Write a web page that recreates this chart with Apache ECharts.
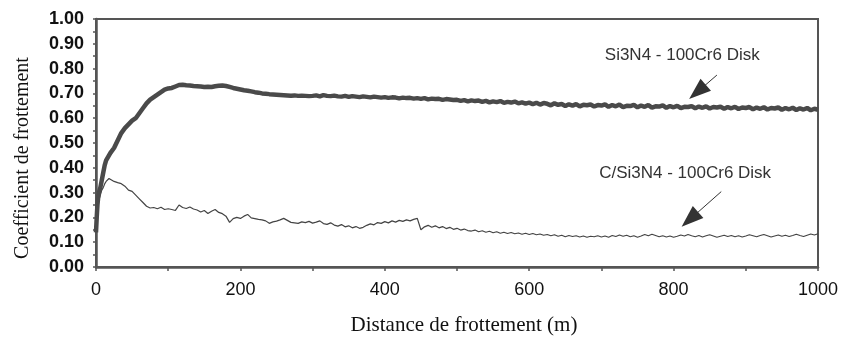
<!DOCTYPE html>
<html>
<head>
<meta charset="utf-8">
<script src="https://cdn.jsdelivr.net/npm/echarts@6/dist/echarts.min.js"></script>
<style>html,body{margin:0;padding:0;background:#fff;}#c{width:844px;height:339px;}</style>
</head>
<body>
<div id="c"></div>
<script>
// Sampling distances (m)
const distance = [0,1,2,3,4,6,8,10,12,14,16,18,20];
for (let d = 25; d <= 1000; d += 5) distance.push(d);

// Si3N4 - 100Cr6 Disk
const si3n4 = [
  0.14,0.20,0.25,0.28,0.30,0.32,0.35,0.38,0.41,0.43,0.44,0.45,0.46,
  0.48,0.51,0.54,0.56,0.575,0.59,0.60,0.62,0.64,0.66,0.675,0.685,0.695,0.705,0.715,
  0.720,0.722,0.728,0.734,0.735,0.733,0.732,0.730,0.729,0.728,0.726,0.727,0.726,0.729,0.731,0.732,0.730,0.726,0.722,0.719,
  0.716,0.713,0.711,0.708,0.705,0.703,0.700,0.699,0.697,0.696,0.695,0.694,0.693,0.692,0.691,0.692,0.690,0.691,0.690,0.689,
  0.690,0.692,0.688,0.693,0.690,0.689,0.691,0.688,0.687,0.690,0.686,0.689,0.687,0.685,0.688,0.686,0.684,0.687,0.685,0.683,
  0.685,0.682,0.684,0.683,0.680,0.683,0.681,0.682,0.679,0.681,0.678,0.681,0.676,0.679,0.677,0.678,0.674,0.677,0.675,0.673,
  0.674,0.670,0.673,0.668,0.672,0.669,0.671,0.666,0.670,0.664,0.668,0.665,0.669,0.662,0.666,0.663,0.667,0.660,0.664,0.659,
  0.663,0.657,0.662,0.655,0.661,0.658,0.652,0.660,0.654,0.657,0.649,0.656,0.651,0.657,0.648,0.654,0.652,0.655,0.647,0.653,
  0.651,0.656,0.646,0.653,0.648,0.655,0.645,0.650,0.649,0.654,0.644,0.651,0.646,0.653,0.643,0.648,0.647,0.652,0.642,0.649,
  0.644,0.650,0.641,0.646,0.645,0.649,0.640,0.647,0.642,0.648,0.639,0.645,0.643,0.646,0.638,0.645,0.640,0.646,0.637,0.643,
  0.641,0.645,0.636,0.643,0.638,0.644,0.635,0.641,0.639,0.643,0.634,0.641,0.636,0.642,0.633,0.640,0.635,0.641,0.632,0.638,
  0.634
];

// C/Si3N4 - 100Cr6 Disk
const cSi3n4 = [
  0.14,0.18,0.22,0.25,0.27,0.29,0.31,0.32,0.335,0.345,0.352,0.357,0.350,
  0.345,0.340,0.336,0.326,0.310,0.305,0.290,0.275,0.260,0.245,0.238,0.240,0.235,0.241,0.232,
  0.235,0.232,0.228,0.250,0.240,0.236,0.242,0.234,0.230,0.222,0.228,0.216,0.225,0.232,0.220,0.215,0.205,0.180,0.195,0.200,
  0.196,0.205,0.212,0.198,0.195,0.192,0.190,0.186,0.176,0.182,0.185,0.190,0.196,0.188,0.180,0.178,0.176,0.182,0.179,0.184,
  0.177,0.181,0.186,0.175,0.172,0.178,0.169,0.165,0.171,0.162,0.166,0.158,0.163,0.156,0.160,0.168,0.174,0.170,0.179,0.176,
  0.183,0.178,0.186,0.181,0.188,0.184,0.190,0.186,0.192,0.196,0.150,0.162,0.168,0.160,0.166,0.158,0.163,0.155,0.160,0.152,
  0.156,0.149,0.153,0.147,0.145,0.149,0.142,0.146,0.140,0.144,0.138,0.142,0.136,0.140,0.135,0.139,0.134,0.137,0.132,0.136,
  0.131,0.135,0.130,0.133,0.128,0.131,0.126,0.130,0.124,0.128,0.122,0.127,0.123,0.126,0.121,0.125,0.120,0.124,0.122,0.126,
  0.121,0.125,0.120,0.127,0.123,0.129,0.124,0.128,0.122,0.126,0.120,0.125,0.131,0.126,0.132,0.127,0.122,0.126,0.121,0.125,
  0.120,0.124,0.129,0.125,0.131,0.126,0.122,0.127,0.121,0.126,0.130,0.125,0.120,0.124,0.128,0.123,0.127,0.122,0.126,0.121,
  0.125,0.130,0.126,0.122,0.127,0.131,0.126,0.121,0.125,0.129,0.124,0.128,0.123,0.127,0.132,0.127,0.123,0.128,0.133,0.129,
  0.134
];

const yTicks = ['0.00','0.10','0.20','0.30','0.40','0.50','0.60','0.70','0.80','0.90','1.00'];
const xTicks = ['0','200','400','600','800','1000'];
const seriesNames = ['Si3N4 - 100Cr6 Disk', 'C/Si3N4 - 100Cr6 Disk'];
const xTitle = 'Distance de frottement (m)';
const yTitle = 'Coefficient de frottement';

// annotation anchors in data coordinates
const label1 = [812, 0.855];
const label2 = [816, 0.379];
const arrow1 = [[860, 0.774], [833, 0.706]];
const arrow2 = [[866, 0.304], [822.5, 0.192]];

const pair = (vals) => distance.map((d, i) => [d, vals[i]]);

const chart = echarts.init(document.getElementById('c'), null, {renderer: 'canvas'});
const axisColor = '#555';
chart.setOption({
  animation: false,
  backgroundColor: '#fff',
  grid: {left: 96, right: 26, top: 19, bottom: 72, show: true, borderColor: axisColor, borderWidth: 2, containLabel: false},
  xAxis: {
    type: 'value', min: 0, max: 1000, interval: 200,
    axisLine: {show: true, lineStyle: {color: axisColor, width: 2.5}},
    axisTick: {show: true, inside: false, length: 4, lineStyle: {color: axisColor, width: 1.5}},
    minorTick: {show: true, splitNumber: 2, length: 4, lineStyle: {color: axisColor, width: 1.5}},
    splitLine: {show: false},
    axisLabel: {margin: 14, color: '#111', fontSize: 18, fontFamily: 'Liberation Sans',
      formatter: (v) => { const i = Math.round(v / 200); return xTicks[i] !== undefined ? xTicks[i] : ''; }}
  },
  yAxis: {
    type: 'value', min: 0, max: 1, interval: 0.1,
    axisLine: {show: true, lineStyle: {color: axisColor, width: 2.5}},
    axisTick: {show: true, inside: false, length: 3, lineStyle: {color: axisColor, width: 1.5}},
    minorTick: {show: true, splitNumber: 2, length: 3, lineStyle: {color: axisColor, width: 1.5}},
    splitLine: {show: false},
    axisLabel: {margin: 12, color: '#111', fontSize: 18, fontWeight: 'bold', fontFamily: 'Liberation Sans',
      formatter: (v) => yTicks[Math.round(v * 10)]}
  },
  graphic: [
    {type: 'text', x: 23, y: 158, rotation: Math.PI / 2,
      style: {text: yTitle, fontFamily: 'Liberation Serif', fontSize: 20, fill: '#111', align: 'center', verticalAlign: 'middle'}},
    {type: 'text', x: 464, y: 325,
      style: {text: xTitle, fontFamily: 'Liberation Serif', fontSize: 21, fill: '#111', align: 'center', verticalAlign: 'middle'}}
  ],
  series: [
    {
      name: seriesNames[0], type: 'line', data: pair(si3n4), showSymbol: false, symbol: 'none',
      lineStyle: {color: '#4a4a4a', width: 4.5}, z: 3,
      markPoint: {silent: true, symbol: 'rect', symbolSize: 0,
        label: {show: true, position: 'inside', formatter: seriesNames[0], color: '#333', fontSize: 17, fontFamily: 'Liberation Sans'},
        data: [{coord: label1}]},
      markLine: {silent: true, symbol: ['none', 'triangle'], symbolSize: [16, 22],
        lineStyle: {color: '#333', width: 1, type: 'solid'}, label: {show: false},
        data: [[{coord: arrow1[0]}, {coord: arrow1[1]}]]}
    },
    {
      name: seriesNames[1], type: 'line', data: pair(cSi3n4), showSymbol: false, symbol: 'none',
      lineStyle: {color: '#444', width: 1.2}, z: 2,
      markPoint: {silent: true, symbol: 'rect', symbolSize: 0,
        label: {show: true, position: 'inside', formatter: seriesNames[1], color: '#333', fontSize: 17, fontFamily: 'Liberation Sans'},
        data: [{coord: label2}]},
      markLine: {silent: true, symbol: ['none', 'triangle'], symbolSize: [16, 22],
        lineStyle: {color: '#333', width: 1, type: 'solid'}, label: {show: false},
        data: [[{coord: arrow2[0]}, {coord: arrow2[1]}]]}
    }
  ]
});
</script>
</body>
</html>
